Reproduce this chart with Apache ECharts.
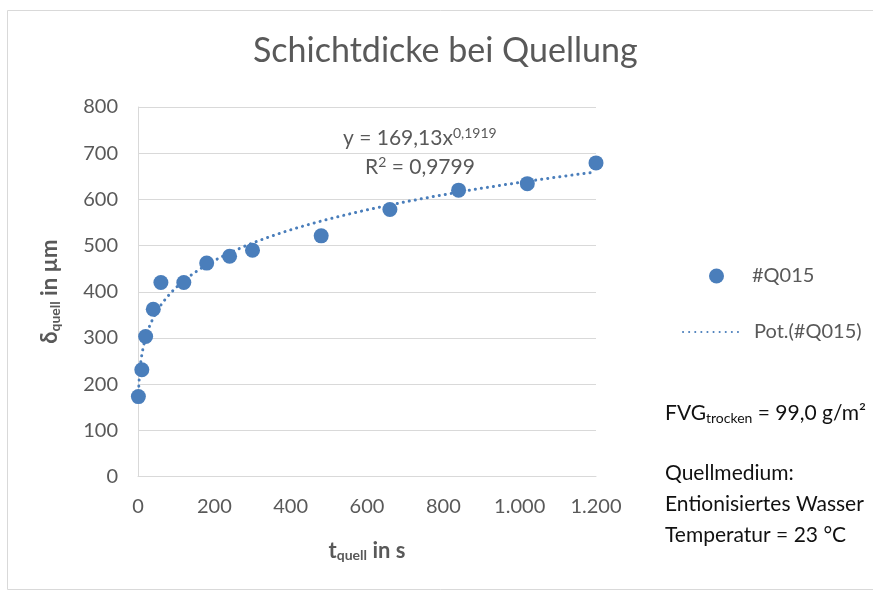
<!DOCTYPE html>
<html><head><meta charset="utf-8">
<script src="https://cdn.jsdelivr.net/npm/echarts@6/dist/echarts.min.js"></script>
<style>html,body{margin:0;padding:0;background:#fff}#c{width:873px;height:591px}</style>
</head><body><div id="c"></div>
<script>
const times = [1, 10, 20, 40, 60, 120, 180, 240, 300, 480, 660, 840, 1020, 1200];
const thickness = [173, 231, 303, 362, 420, 420, 462, 477, 490, 521, 578, 620, 634, 679];
const seriesName = '#Q015';
const trendName = 'Pot.(#Q015)';
const fitA = 169.13;
const fitB = 0.1919;
const fitR2 = '0,9799';

const trendData = [];
for (let t = times[0]; t <= times[times.length - 1]; t += (t < 40 ? 1 : 10)) {
  trendData.push([t, fitA * Math.pow(t, fitB)]);
}
const fmtDE = v => String(v).replace(/\B(?=(\d{3})+(?!\d))/g, '.');
const FONT = 'Lato, "Open Sans", sans-serif';
const grey = '#595959';
const dark = '#111111';
const blue = '#4a7ebb';

const chart = echarts.init(document.getElementById('c'));
chart.setOption({
  animation: false,
  textStyle: { fontFamily: FONT },
  grid: { left: 138, right: 277, top: 107, bottom: 114.5 },
  xAxis: {
    type: 'value', min: 0, max: 1200, interval: 200,
    axisLine: { show: true, lineStyle: { color: '#d9d9d9' } },
    axisTick: { show: false },
    splitLine: { show: false },
    axisLabel: { color: grey, fontSize: 20, margin: 20, formatter: v => fmtDE(v) },
    name: '{b|t}{s|quell}{b| in s}', nameLocation: 'middle', nameGap: 62,
    nameTextStyle: { rich: {
      b: { fontSize: 22, fontWeight: 'bold', color: grey, fontFamily: FONT },
      s: { fontSize: 14, fontWeight: 'bold', color: grey, fontFamily: FONT, verticalAlign: 'bottom', padding: [10, 0, 0, 0] }
    } }
  },
  yAxis: {
    type: 'value', min: 0, max: 800, interval: 100,
    axisLine: { show: true, lineStyle: { color: '#d9d9d9' } },
    axisTick: { show: false },
    splitLine: { show: true, lineStyle: { color: '#d9d9d9' } },
    axisLabel: { color: grey, fontSize: 20, margin: 20 },
    name: '{b|δ}{s|quell}{b| in µm}', nameLocation: 'middle', nameGap: 76, nameRotate: 90,
    nameTextStyle: { rich: {
      b: { fontSize: 22, fontWeight: 'bold', color: grey, fontFamily: FONT },
      s: { fontSize: 14, fontWeight: 'bold', color: grey, fontFamily: FONT, verticalAlign: 'bottom', padding: [10, 0, 0, 0] }
    } }
  },
  legend: [
    { data: [seriesName], orient: 'vertical', left: 704, top: 261, icon: 'circle', itemWidth: 15, itemHeight: 15,
      textStyle: { color: grey, fontSize: 20, padding: [0, 0, 0, 23] } },
    { data: [trendName], orient: 'vertical', left: 677, top: 317, itemWidth: 60, itemHeight: 18,
      itemStyle: { opacity: 0 },
      textStyle: { color: grey, fontSize: 20, padding: [0, 0, 0, 6] } }
  ],
  series: [
    { name: trendName, type: 'line', data: trendData, showSymbol: false, symbol: 'none', smooth: false, z: 2,
      lineStyle: { color: blue, width: 3, type: [0.1, 6], cap: 'round' }, itemStyle: { color: blue } },
    { name: seriesName, type: 'scatter', data: times.map((t, i) => [t, thickness[i]]), symbolSize: 15, z: 3,
      itemStyle: { color: blue, opacity: 1 } }
  ],
  graphic: [
    { type: 'rect', left: 5, top: 8, shape: { width: 900, height: 579 }, style: { fill: 'none', stroke: '#d9d9d9', lineWidth: 1 }, silent: true },
    { type: 'text', left: 253, top: 34, style: { text: 'Schichtdicke bei Quellung', fill: grey, fontSize: 34, fontFamily: FONT } },
    { type: 'text', left: 343, top: 126, style: { text: '{n|y = ' + fitA.toFixed(2).replace('.', ',') + 'x}{p|' + String(fitB).replace('.', ',') + '}',
        rich: { n: { fontSize: 21, fill: grey, fontFamily: FONT }, p: { fontSize: 14, fill: grey, fontFamily: FONT, verticalAlign: 'top', padding: [0, 0, 10, 0] } } } },
    { type: 'text', left: 365, top: 155, style: { text: '{n|R}{p|2}{n| = ' + fitR2 + '}',
        rich: { n: { fontSize: 21, fill: grey, fontFamily: FONT }, p: { fontSize: 14, fill: grey, fontFamily: FONT, verticalAlign: 'top', padding: [0, 0, 10, 0] } } } },
    { type: 'text', left: 665, top: 403, style: { text: '{n|FVG}{s|trocken}{n| = 99,0 g/m²}',
        rich: { n: { fontSize: 21, fill: dark, fontFamily: FONT }, s: { fontSize: 14, fill: dark, fontFamily: FONT, verticalAlign: 'bottom', padding: [9, 0, 0, 0] } } } },
    { type: 'text', left: 665, top: 458, style: { text: 'Quellmedium:\nEntionisiertes Wasser\nTemperatur = 23 °C', fill: dark, fontSize: 21, lineHeight: 31, fontFamily: FONT } }
  ]
});
</script></body></html>
